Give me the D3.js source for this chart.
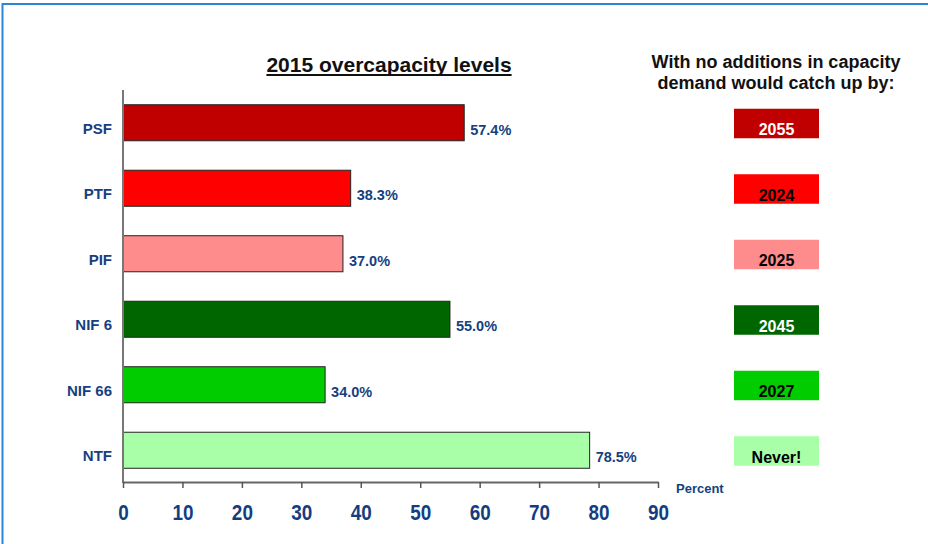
<!DOCTYPE html>
<html>
<head>
<meta charset="utf-8">
<script src="https://cdn.jsdelivr.net/npm/d3@7"></script>
<style>
  html, body { margin: 0; padding: 0; background: #fff; }
  svg { display: block; font-family: "Liberation Sans", Arial, sans-serif; }
</style>
</head>
<body>
<svg id="chart" width="928" height="544"></svg>
<script>
const categories = ["PSF", "PTF", "PIF", "NIF 6", "NIF 66", "NTF"];
const values = [57.4, 38.3, 37.0, 55.0, 34.0, 78.5];
const catchUp = ["2055", "2024", "2025", "2045", "2027", "Never!"];
const barColors = ["#C00000", "#FF0000", "#FF8C8C", "#006600", "#00CC00", "#A8FFA8"];
const boxTextColors = ["#ffffff", "#000000", "#000000", "#ffffff", "#000000", "#000000"];
const xTicks = [0, 10, 20, 30, 40, 50, 60, 70, 80, 90];
const title = "2015 overcapacity levels";
const sideTitle = ["With no additions in capacity", "demand would catch up by:"];
const axisLabel = "Percent";

const svg = d3.select("#chart");
const blue = "#163f7f";

// frame
svg.append("rect").attr("x", 2.5).attr("y", 4).attr("width", 1000).attr("height", 600)
  .attr("fill", "none").attr("stroke", "#2a86d8").attr("stroke-width", 2);

const x = d3.scaleLinear().domain([0, 90]).range([123, 658]);
const y = d3.scaleBand().domain(categories).range([90, 483]).paddingInner(0.45).paddingOuter(0.225);

const rows = categories.map((c, i) => ({ c, v: values[i], col: barColors[i], yr: catchUp[i], tc: boxTextColors[i] }));

// bars
svg.append("g").selectAll("rect").data(rows).join("rect")
  .attr("x", x(0)).attr("y", d => y(d.c))
  .attr("width", d => x(d.v) - x(0)).attr("height", y.bandwidth())
  .attr("fill", d => d.col).attr("stroke", "#222").attr("stroke-width", 1);

// value labels
svg.append("g").selectAll("text").data(rows).join("text")
  .attr("x", d => x(d.v) + 6).attr("y", d => y(d.c) + y.bandwidth() / 2 + 12)
  .attr("fill", blue).attr("font-size", 14.5).attr("font-weight", "bold")
  .text(d => d.v.toFixed(1) + "%");

// category labels
svg.append("g").selectAll("text").data(rows).join("text")
  .attr("x", 112).attr("y", d => y(d.c) + y.bandwidth() / 2 + 11)
  .attr("text-anchor", "end")
  .attr("fill", blue).attr("font-size", 15).attr("font-weight", "bold")
  .text(d => d.c);

// y axis line
svg.append("line").attr("x1", 123).attr("x2", 123).attr("y1", 90).attr("y2", 483)
  .attr("stroke", "#777").attr("stroke-width", 2);

// x axis
const xAxis = svg.append("g").attr("transform", "translate(0,482)")
  .call(d3.axisBottom(x).tickValues(xTicks).tickSize(6).tickSizeOuter(0).tickPadding(16));
xAxis.select(".domain").attr("stroke", "#666").attr("stroke-width", 2);
xAxis.selectAll(".tick line").attr("stroke", "#555").attr("stroke-width", 1.5);
xAxis.selectAll(".tick text")
  .attr("font-family", "'Liberation Sans', Arial, sans-serif")
  .attr("font-size", 22).attr("font-weight", "bold").attr("fill", "#143d80")
  .attr("transform", "scale(0.86,1)");

svg.append("text").attr("x", 676).attr("y", 493)
  .attr("fill", blue).attr("font-size", 13).attr("font-weight", "bold").text(axisLabel);

// title
const t = svg.append("text").attr("x", 389).attr("y", 72).attr("text-anchor", "middle")
  .attr("font-size", 21).attr("font-weight", "bold").attr("fill", "#111").text(title);
const bb = t.node().getBBox();
svg.append("line").attr("x1", bb.x).attr("x2", bb.x + bb.width).attr("y1", 75).attr("y2", 75)
  .attr("stroke", "#111").attr("stroke-width", 2);

// side title
svg.append("g").selectAll("text").data(sideTitle).join("text")
  .attr("x", 776).attr("y", (d, i) => 68 + i * 21).attr("text-anchor", "middle")
  .attr("font-size", 18).attr("font-weight", "bold").attr("fill", "#111").text(d => d);

// catch-up boxes
const boxes = svg.append("g").selectAll("g").data(rows).join("g");
boxes.append("rect")
  .attr("x", 734).attr("width", 85)
  .attr("y", d => y(d.c) + y.bandwidth() / 2 - 14).attr("height", 29.5)
  .attr("fill", d => d.col);
boxes.append("text")
  .attr("x", 776.5).attr("y", d => y(d.c) + y.bandwidth() / 2 + 12.5)
  .attr("text-anchor", "middle").attr("font-size", 16).attr("font-weight", "bold")
  .attr("fill", d => d.tc).text(d => d.yr);
</script>
</body>
</html>
